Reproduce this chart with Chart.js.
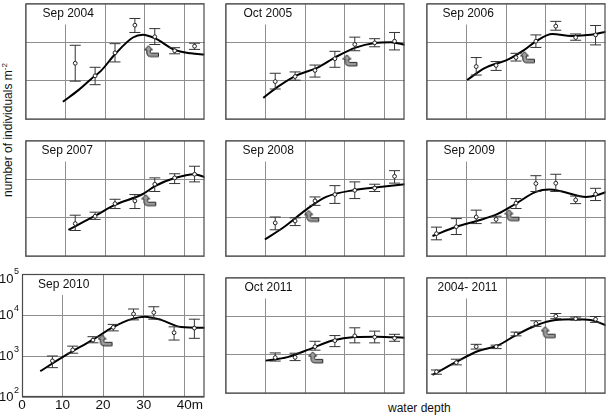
<!DOCTYPE html>
<html>
<head>
<meta charset="utf-8">
<script src="https://cdn.jsdelivr.net/npm/chart.js@4.4.1/dist/chart.umd.min.js"></script>
<style>
  body { margin: 0; background: #fff; }
  #wrap { position: relative; width: 610px; height: 416px; overflow: hidden;
          font-family: "Liberation Sans", Arial, sans-serif; color: #111; }
  #wrap canvas { position: absolute; }
  .axisTitle { position: absolute; font-size: 12px; line-height: 14px; white-space: nowrap; }
  .axisTitle sup { font-size: 8px; vertical-align: 5px; line-height: 0; }
</style>
</head>
<body>
<div id="wrap">
  <div class="axisTitle" id="yTitle">number of individuals m<sup>-2</sup></div>
  <div class="axisTitle" id="xTitle">water depth</div>
</div>
<script>
// depth bins (m), centre of each 5 m class
const depthBins = [2.5, 7.5, 12.5, 17.5, 22.5, 27.5, 32.5, 37.5, 42.5];
const xGridDepths = [0, 10, 20, 30, 40];
const xTickLabels = ["0", "10", "20", "30", "40"];
const yGridValues = [100, 1000, 10000, 100000];
const yTickExponents = ["2", "3", "4", "5"];
const panelTitles = ["Sep 2004", "Oct 2005", "Sep 2006", "Sep 2007", "Sep 2008",
                     "Sep 2009", "Sep 2010", "Oct 2011", "2004- 2011"];

// means and error limits per bin (null = no sample)
const mean2004 = [null, null, 2850, 1350, 5300, 27500, 13800, 6000, 7850];
const lo2004   = [null, null, 980, 795, 3080, 17800, 8700, 5000, 6500];
const hi2004   = [null, null, 8300, 2240, 9150, 41000, 22400, 7200, 9400];

const mean2005 = [null, null, 955, 1290, 1860, 3730, 8750, 9600, 10600];
const lo2005   = [null, null, 615, 1040, 1250, 2240, 6000, 7600, 6300];
const hi2005   = [null, null, 1570, 1700, 2560, 5800, 13500, 12300, 17800];

const mean2006 = [null, null, 2340, 2500, 4000, 10600, 25900, 13200, 15400];
const lo2006   = [null, null, 1410, 1860, 3250, 7300, 20400, 11200, 8500];
const hi2006   = [null, null, 4000, 3150, 5150, 15400, 34500, 16300, 27000];

const mean2007 = [null, null, 710, 1100, 2330, 2750, 7400, 10800, 13400];
const lo2007   = [null, null, 470, 910, 1740, 1740, 4800, 7700, 8500];
const hi2007   = [null, null, 1170, 1400, 3020, 4000, 10800, 13800, 21600];

const mean2008 = [null, null, 740, 830, 2750, 4000, 5150, 5900, 11800];
const lo2008   = [null, null, 490, 630, 2100, 2360, 3150, 4800, 7900];
const hi2008   = [null, null, 1050, 1000, 3470, 6800, 8500, 7400, 16600];

const mean2009 = [390, 590, 1050, 910, 2400, 7700, 7850, 2900, 4100];
const lo2009   = [270, 370, 710, 740, 1740, 4800, 4800, 2330, 2800];
const hi2009   = [575, 955, 1580, 1100, 3150, 12300, 13400, 3650, 5800];

const mean2010 = [null, 760, 1410, 2450, 5000, 10600, 11500, 3700, 4800];
const lo2010   = [null, 520, 1170, 2100, 4100, 7600, 7900, 2450, 2700];
const hi2010   = [null, 1000, 1740, 2960, 5900, 14000, 15900, 5150, 7900];

const mean2011 = [null, null, 850, 860, 1630, 2330, 3100, 2870, 2700];
const lo2011   = [null, null, 690, 710, 1320, 1630, 2040, 2040, 2240];
const hi2011   = [null, null, 1120, 1100, 2240, 3150, 5000, 4100, 3400];

const meanAll = [365, 630, 1630, 1630, 3450, 6500, 10000, 8600, 8300];
const loAll   = [315, 550, 1410, 1450, 3100, 5450, 8600, 7900, 6900];
const hiAll   = [405, 770, 1870, 1780, 3870, 7600, 11700, 9500, 9800];

// fitted curves
const fitDepth2004 = [9.4, 13.3, 16.5, 18.9, 22.6, 27.0, 29.5, 32.7, 37.5, 41.6, 45];
const fitValue2004 = [288, 575, 1120, 1780, 5000, 13200, 15500, 12300, 6300, 5150, 4800];
const fitDepth2005 = [9.5, 13.2, 18.0, 22.9, 27.8, 32.7, 37.5, 41.6, 45.2];
const fitValue2005 = [363, 708, 1410, 2140, 4170, 7240, 9550, 10000, 8510];
const fitDepth2006 = [10.2, 14.6, 17.9, 20.3, 24.3, 27.5, 31.6, 36.5, 41.3, 45.2];
const fitValue2006 = [1050, 2140, 2880, 3470, 6030, 10500, 16200, 14500, 15500, 18600];
const fitDepth2007 = [10.8, 17.3, 22.6, 29.4, 32.7, 37.5, 42.4, 45.2];
const fitValue2007 = [490, 1100, 2190, 4070, 6760, 10700, 13500, 11200];
const fitDepth2008 = [9.9, 14.8, 20.4, 25.3, 32.5, 38.2, 45.1];
const fitValue2008 = [275, 589, 1660, 3470, 5250, 6170, 7410];
const fitDepth2009 = [1.5, 7.5, 13.0, 17.9, 22.5, 27.5, 30.8, 34.1, 40.1, 43.0, 45.2];
const fitValue2009 = [339, 589, 851, 1260, 2340, 4680, 5370, 4790, 3470, 3890, 4680];
const fitDepth2010 = [4.5, 10.8, 17.3, 22.6, 27.0, 30.3, 34.3, 39.2, 45.5];
const fitValue2010 = [427, 1050, 2450, 5130, 7940, 9120, 7590, 5130, 4900];
const fitDepth2011 = [10.1, 15.6, 21.2, 26.9, 32.5, 38.2, 45.1];
const fitValue2011 = [708, 871, 1410, 2340, 2880, 2950, 2750];
const fitDepthAll = [1.5, 7.5, 13.0, 17.9, 22.5, 27.5, 32.4, 37.3, 41.3, 45.2];
const fitValueAll = [302, 661, 1260, 1740, 3240, 5750, 7940, 8320, 7940, 5750];

// grey arrow markers (depth, density)
const arrowDepth = [31.8, 31.4, 25.5, 31.1, 21.8, 21.6, 20.6, 22.8, 30.7];
const arrowValue = [5700, 3290, 3980, 2780, 1090, 1140, 2350, 836, 3740];

const panels = [
  [mean2004, lo2004, hi2004, fitDepth2004, fitValue2004],
  [mean2005, lo2005, hi2005, fitDepth2005, fitValue2005],
  [mean2006, lo2006, hi2006, fitDepth2006, fitValue2006],
  [mean2007, lo2007, hi2007, fitDepth2007, fitValue2007],
  [mean2008, lo2008, hi2008, fitDepth2008, fitValue2008],
  [mean2009, lo2009, hi2009, fitDepth2009, fitValue2009],
  [mean2010, lo2010, hi2010, fitDepth2010, fitValue2010],
  [mean2011, lo2011, hi2011, fitDepth2011, fitValue2011],
  [meanAll, loAll, hiAll, fitDepthAll, fitValueAll],
];

// layout
const colLeft = [22, 222, 423];
const rowTop = [0, 137, 274];
const panelW = 186, panelH = 123, pad = 3;
const titleInset = [17, 18, 16, 16, 17, 17, 16, 19, 11];
const FONT = '"Liberation Sans", Arial, sans-serif';

const yTitle = document.getElementById("yTitle");
yTitle.style.cssText = "left:-62px;top:123px;width:140px;text-align:center;transform:rotate(-90deg);";
const xTitle = document.getElementById("xTitle");
xTitle.style.cssText = "left:388px;top:401px;";

function makeArrow() {
  const c = document.createElement("canvas");
  c.width = 16; c.height = 14;
  const g = c.getContext("2d");
  g.beginPath();
  g.moveTo(4.5, 1);
  g.lineTo(8.5, 5.2);
  g.lineTo(6.3, 5.2);
  g.lineTo(6.3, 7.5);
  g.quadraticCurveTo(6.3, 8.6, 7.8, 8.6);
  g.lineTo(14.5, 8.6);
  g.lineTo(14.5, 12);
  g.lineTo(7, 12);
  g.quadraticCurveTo(2.8, 12, 2.8, 8);
  g.lineTo(2.8, 5.2);
  g.lineTo(0.6, 5.2);
  g.closePath();
  g.fillStyle = "#a0a0a0";
  g.fill();
  g.strokeStyle = "#222";
  g.lineWidth = 1;
  g.stroke();
  return c;
}
const arrowImg = makeArrow();

const panelDeco = {
  id: "panelDeco",
  beforeDatasetsDraw(chart, args, opts) {
    const { ctx, chartArea: a } = chart;
    ctx.save();
    ctx.font = "12px " + FONT;
    const w = ctx.measureText(opts.title).width;
    ctx.fillStyle = "#fff";
    ctx.fillRect(a.left + opts.inset - 4, a.top + 1, w + 8, 20);
    ctx.fillStyle = "#111";
    ctx.textBaseline = "middle";
    ctx.fillText(opts.title, a.left + opts.inset, a.top + 10.5);
    ctx.restore();
  },
  afterDraw(chart) {
    const { ctx, chartArea: a } = chart;
    ctx.save();
    ctx.strokeStyle = "#4a4a4a";
    ctx.lineWidth = 1.2;
    ctx.strokeRect(a.left + 0.5, a.top + 0.5, a.right - a.left - 1, a.bottom - a.top - 1);
    ctx.restore();
  },
};

const tickText = {
  id: "tickText",
  afterDraw(chart) {
    const { ctx, scales: { x, y }, chartArea: a } = chart;
    ctx.save();
    ctx.fillStyle = "#111";
    ctx.textBaseline = "middle";
    yGridValues.forEach((v, i) => {
      // top label is kept inside the frame, as in the original
      const py = Math.max(y.getPixelForValue(v), a.top + 4.5);
      ctx.font = "9px " + FONT;
      const ew = ctx.measureText(yTickExponents[i]).width;
      ctx.textAlign = "right";
      ctx.fillText(yTickExponents[i], a.left - 3, py - 6.5);
      ctx.font = "13px " + FONT;
      ctx.fillText("10", a.left - 3 - ew - 0.5, py + 0.5);
    });
    ctx.font = "13.5px " + FONT;
    xGridDepths.forEach((d, i) => {
      const px = x.getPixelForValue(d);
      ctx.textAlign = "center";
      ctx.fillText(xTickLabels[i], px, a.bottom + 8);
      if (i === xGridDepths.length - 1) {
        const w = ctx.measureText(xTickLabels[i]).width;
        ctx.textAlign = "left";
        ctx.fillText("m", px + w / 2, a.bottom + 8);
      }
    });
    ctx.restore();
  },
};

const wrap = document.getElementById("wrap");

panels.forEach(([mean, lo, hi, fitX, fitY], k) => {
  const r = Math.floor(k / 3), c = k % 3;
  const L = colLeft[c], T = rowTop[r];
  const corner = k === 6;
  const topPad = corner ? 10 : pad;
  const padding = corner
    ? { left: L, top: topPad, right: pad, bottom: 416 - T - panelH }
    : { left: pad, top: pad, right: pad, bottom: pad };
  const cw = corner ? L + panelW + pad : panelW + 2 * pad;
  const ch = corner ? 416 - T + topPad : panelH + 2 * pad;

  const canvas = document.createElement("canvas");
  canvas.width = cw; canvas.height = ch;
  canvas.style.width = cw + "px"; canvas.style.height = ch + "px";
  canvas.style.left = (corner ? 0 : L - pad) + "px";
  canvas.style.top = (T - topPad) + "px";
  wrap.appendChild(canvas);

  const meanPts = [], capPts = [], barPts = [];
  depthBins.forEach((d, i) => {
    if (mean[i] == null) return;
    meanPts.push({ x: d, y: mean[i] });
    capPts.push({ x: d, y: lo[i] }, { x: d, y: hi[i] });
    barPts.push({ x: d, y: lo[i] }, { x: d, y: hi[i] }, { x: d, y: null });
  });

  new Chart(canvas, {
    type: "scatter",
    data: {
      datasets: [
        {
          data: meanPts,
          pointStyle: "circle",
          pointRadius: 1.9,
          backgroundColor: "#fff",
          borderColor: "#222",
          borderWidth: 1,
        },
        {
          data: capPts,
          pointStyle: "line",
          pointRadius: 5.5,
          borderColor: "#333",
          borderWidth: 1,
        },
        {
          data: barPts,
          showLine: true,
          spanGaps: false,
          pointRadius: 0,
          borderColor: "#333",
          borderWidth: 1,
        },
        {
          data: fitX.map((d, i) => ({ x: d, y: fitY[i] })),
          showLine: true,
          cubicInterpolationMode: "monotone",
          pointRadius: 0,
          borderColor: "#000",
          borderWidth: 2,
        },
        {
          data: [{ x: arrowDepth[k], y: arrowValue[k] }],
          pointStyle: arrowImg,
        },
      ],
    },
    options: {
      responsive: false,
      animation: false,
      devicePixelRatio: 1,
      events: [],
      layout: { padding },
      plugins: {
        legend: { display: false },
        tooltip: { enabled: false },
        panelDeco: { title: panelTitles[k], inset: titleInset[k] },
      },
      scales: {
        x: {
          type: "linear",
          min: 0,
          max: 45,
          afterBuildTicks: (s) => { s.ticks = xGridDepths.map((v) => ({ value: v })); },
          ticks: { display: false },
          grid: { color: "#8e8e8e", lineWidth: 1, drawTicks: false },
          border: { display: false },
        },
        y: {
          type: "logarithmic",
          min: 100,
          max: 100000,
          afterBuildTicks: (s) => { s.ticks = yGridValues.map((v) => ({ value: v })); },
          ticks: { display: false },
          grid: { color: "#8e8e8e", lineWidth: 1, drawTicks: false },
          border: { display: false },
        },
      },
    },
    plugins: corner ? [panelDeco, tickText] : [panelDeco],
  });
});
</script>
</body>
</html>
